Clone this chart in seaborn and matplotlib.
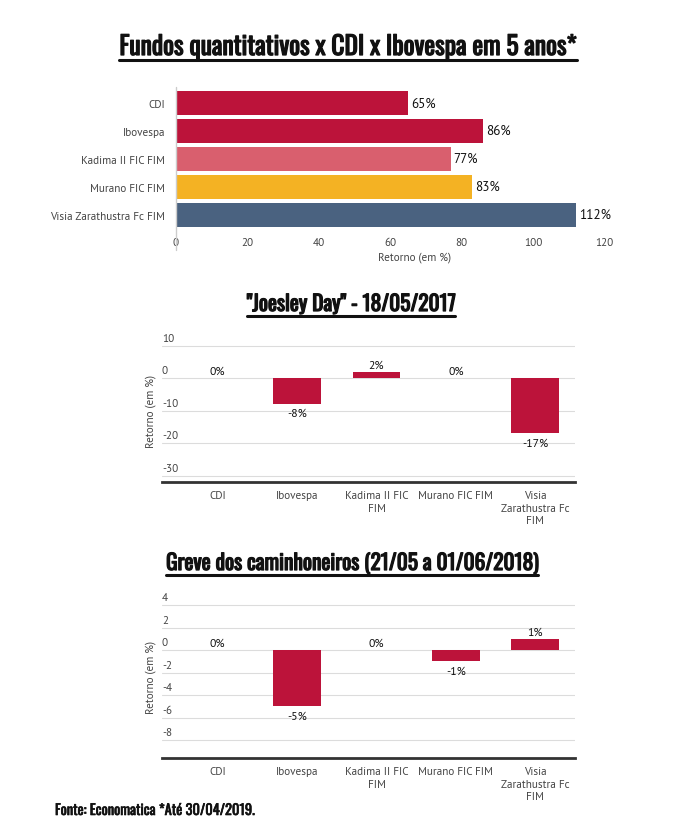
import matplotlib
matplotlib.use("Agg")
import matplotlib.pyplot as plt
import matplotlib.patheffects as pe
from matplotlib.lines import Line2D
import seaborn as sns

# Data
categories = ["CDI", "Ibovespa", "Kadima II FIC FIM", "Murano FIC FIM", "Visia Zarathustra Fc FIM"]
tick_labels = ["CDI", "Ibovespa", "Kadima II FIC\nFIM", "Murano FIC FIM", "Visia\nZarathustra Fc\nFIM"]
retorno_5anos = [65, 86, 77, 83, 112]
joesley_day = [0, -8, 2, 0, -17]
greve = [0, -5, 0, -1, 1]
bar_colors = ["#BC133A", "#BC133A", "#D95F6E", "#F4B223", "#4A6280"]
ticks_5anos = [0, 20, 40, 60, 80, 100, 120]
ticks_joesley = [10, 0, -10, -20, -30]
ticks_greve = [4, 2, 0, -2, -4, -6, -8]

W, H = 700, 829
RED = "#BC133A"
TICK = "#444444"
GRID = "#dcdcdc"
INK = "#111111"

sns.set_theme(style="white")
BODY = ['PT Sans', 'DejaVu Sans']
HEAD = ['Oswald', 'DejaVu Sans']
plt.rcParams['font.family'] = BODY

# Oswald here has only the regular weight: thicken it a bit
heavy = [pe.withStroke(linewidth=0.9, foreground=INK)]
semi = [pe.withStroke(linewidth=0.45, foreground=INK)]

fig = plt.figure(figsize=(7, 8.29), dpi=100)


def box(left, top, right, bottom):
    # pixel box (from top-left) -> figure fraction
    return [left / W, 1 - bottom / H, (right - left) / W, (bottom - top) / H]


titles = []


def title(text, x, y_base, size):
    t = fig.text(x / W, 1 - y_base / H, text, ha='center', va='baseline',
                 fontsize=size, fontweight='bold', family=HEAD, color=INK, path_effects=heavy)
    titles.append((t, y_base))
    return t


# ---- Top chart: 5 year return ----
title("Fundos quantitativos x CDI x Ibovespa em 5 anos*", 348, 56, 18.4)

ax1 = fig.add_axes(box(176, 88, 608, 232))
sns.barplot(x=retorno_5anos, y=categories, hue=categories, palette=bar_colors,
            legend=False, width=0.86, saturation=1, linewidth=0, ax=ax1, orient='h')
ax1.set_xlim(0, 121)
ax1.set_ylim(4.59, -0.57)
ax1.set_xticks(ticks_5anos)
ax1.tick_params(axis='both', length=0, labelsize=8, labelcolor=TICK)
ax1.tick_params(axis='x', pad=4)
ax1.tick_params(axis='y', pad=8)
ax1.set_ylabel("")
ax1.set_xlabel("Retorno (em %)", fontsize=8, color=TICK)
ax1.xaxis.set_label_coords((415 - 176) / 432, -0.14)
sns.despine(ax=ax1, left=True, bottom=True)
ax1.axvline(0, ymin=-0.13, ymax=1, color="#cccccc", lw=1, clip_on=False)
for i, v in enumerate(retorno_5anos):
    ax1.annotate(f"{v}%", (v, i), xytext=(2, 0), textcoords='offset points',
                 ha='left', va='center', fontsize=9.5, color=INK)


def column_chart(ax, values, yticks, ylim):
    sns.barplot(x=categories, y=values, color=RED, saturation=1, width=0.6, linewidth=0, ax=ax)
    ax.set_xlim(-0.7, 4.5)
    ax.set_ylim(*ylim)
    ax.set_yticks(yticks)
    ax.set_yticklabels([])
    ax.yaxis.grid(True, color=GRID, lw=0.8)
    ax.set_axisbelow(True)
    ax.set_xticks(range(len(categories)))
    ax.set_xticklabels(tick_labels, linespacing=1.3)
    ax.tick_params(axis='both', length=0, labelsize=8, labelcolor=TICK)
    ax.tick_params(axis='x', pad=6)
    for s in ['top', 'right', 'left']:
        ax.spines[s].set_visible(False)
    ax.spines['bottom'].set_color('#333333')
    ax.spines['bottom'].set_linewidth(2)
    for t in yticks:
        ax.annotate(str(t), (0, t), xycoords=('axes fraction', 'data'),
                    xytext=(0, 2), textcoords='offset points',
                    ha='left', va='bottom', fontsize=8, color=TICK)
    for i, v in enumerate(values):
        if v < 0:
            ax.annotate(f"{v}%", (i, v), xytext=(0, -3), textcoords='offset points',
                        ha='center', va='top', fontsize=8.5, color=INK)
        else:
            ax.annotate(f"{v}%", (i, v), xytext=(0, 1.5), textcoords='offset points',
                        ha='center', va='bottom', fontsize=8.5, color=INK)
    ax.set_xlabel("")
    ax.set_ylabel("Retorno (em %)", fontsize=8, color=TICK)
    ax.yaxis.set_label_coords(-0.014, 0.5)


# ---- Middle chart: Joesley Day ----
title('"Joesley Day" - 18/05/2017', 351, 312, 15.4)
ax2 = fig.add_axes(box(162, 340, 575, 483))
column_chart(ax2, joesley_day, ticks_joesley, (-32, 12))

# ---- Bottom chart: truckers' strike ----
title("Greve dos caminhoneiros (21/05 a 01/06/2018)", 352, 571, 15.4)
ax3 = fig.add_axes(box(162, 595, 575, 759))
column_chart(ax3, greve, ticks_greve, (-9.6, 5))

fig.text(55 / W, 1 - 816 / H, "Fonte: Economatica *Até 30/04/2019.", ha='left', va='baseline',
         fontsize=10.4, family=HEAD, color=INK, path_effects=semi)

# underline the titles
fig.canvas.draw()
renderer = fig.canvas.get_renderer()
for t, y_base in titles:
    bb = t.get_window_extent(renderer)
    y = 1 - (y_base + 5) / H
    fig.add_artist(Line2D([bb.x0 / W, bb.x1 / W], [y, y], transform=fig.transFigure,
                          color=INK, lw=2.2))

fig.savefig("out.png", dpi=100)
